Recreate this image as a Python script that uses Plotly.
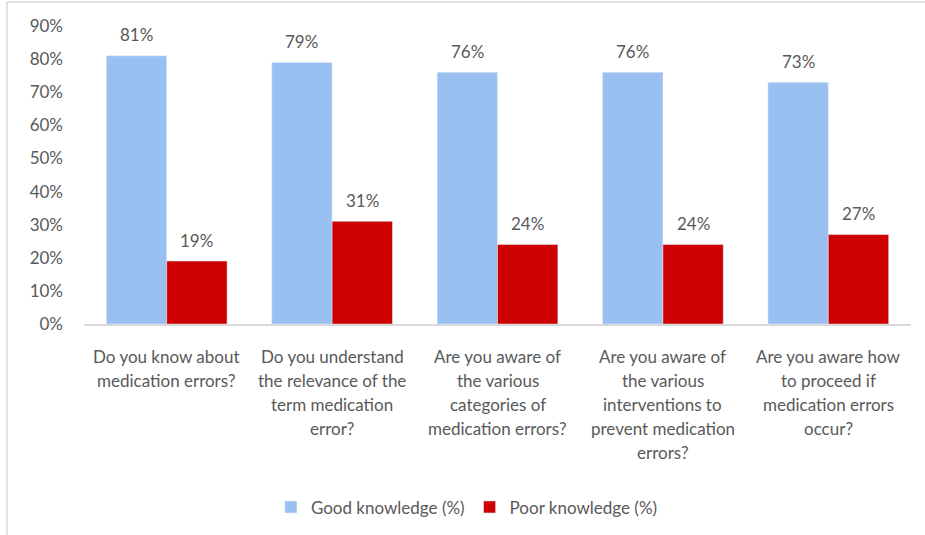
import plotly.graph_objects as go

questions = [
    "Do you know about<br>medication errors?",
    "Do you understand<br>the relevance of the<br>term medication<br>error?",
    "Are you aware of<br>the various<br>categories of<br>medication errors?",
    "Are you aware of<br>the various<br>interventions to<br>prevent medication<br>errors?",
    "Are you aware how<br>to proceed if<br>medication errors<br>occur?",
]
good = [81, 79, 76, 76, 73]
poor = [19, 31, 24, 24, 27]
y_ticks = [0, 10, 20, 30, 40, 50, 60, 70, 80, 90]

FONT = "Lato"
FS = 17
TXT = "#595959"
BLUE = "#99C0F0"
RED = "#CC0000"

W, H = 925, 535
ML, MR, MT, MB = 84, 14, 26, 210
BARGAP = 0.27

cats = [f"q{i}" for i in range(len(questions))]

fig = go.Figure()
fig.add_trace(go.Bar(x=cats, y=good, name="Good knowledge (%)", marker=dict(color=BLUE)))
fig.add_trace(go.Bar(x=cats, y=poor, name="Poor knowledge (%)", marker=dict(color=RED)))

# half of one bar's pixel width, used to centre value labels on each bar
cat_px = (W - ML - MR) / len(cats)
half_bar = cat_px * (1 - BARGAP) / 4

annotations = []
# value labels above the bars
for c, g, p in zip(cats, good, poor):
    for val, sx in ((g, -half_bar), (p, half_bar)):
        annotations.append(dict(
            x=c, y=val, xref="x", yref="y", text=f"{val}%", showarrow=False,
            xshift=sx, yshift=21, yanchor="middle",
            font=dict(family=FONT, size=FS, color=TXT),
        ))
# category labels, one annotation per line for Excel-like line spacing
for c, q in zip(cats, questions):
    for i, line in enumerate(q.split("<br>")):
        annotations.append(dict(
            x=c, y=0, xref="x", yref="paper", text=line, showarrow=False,
            yanchor="middle", yshift=-32 - 24 * i,
            font=dict(family=FONT, size=FS, color=TXT),
        ))

fig.update_layout(
    width=W, height=H,
    margin=dict(l=ML, r=MR, t=MT, b=MB),
    paper_bgcolor="white", plot_bgcolor="white",
    barmode="group", bargap=BARGAP, bargroupgap=0,
    font=dict(family=FONT, size=FS, color=TXT),
    showlegend=True,
    legend=dict(orientation="h", x=0.463, xanchor="center", y=-0.61, yanchor="middle",
                font=dict(family=FONT, size=FS, color=TXT), itemwidth=30,
                traceorder="normal"),
    annotations=annotations,
    shapes=[dict(type="rect", xref="paper", yref="paper",
                 x0=-0.0931, x1=1.1, y0=-1.0, y1=1.0803,
                 line=dict(color="#D9D9D9", width=1.5), layer="below")],
)
fig.update_xaxes(showticklabels=False, showline=True, linecolor="#D9D9D9", linewidth=1.5,
                 ticks="", showgrid=False, zeroline=False)
fig.update_yaxes(range=[0, 90], tickvals=y_ticks, ticktext=[f"{v}%" for v in y_ticks],
                 showgrid=False, zeroline=False, showline=False, ticks="",
                 ticklabelstandoff=20, tickfont=dict(family=FONT, size=FS, color=TXT))

fig.write_html("out.html")
